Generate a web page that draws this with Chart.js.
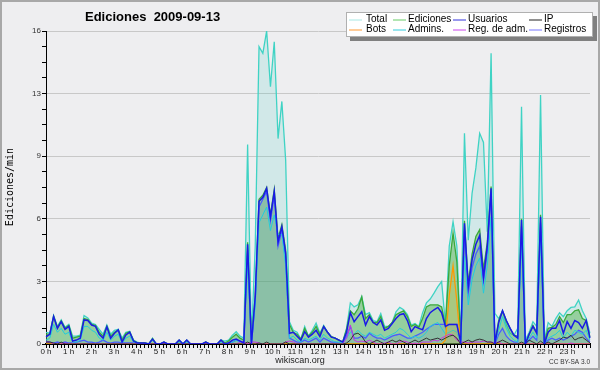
<!DOCTYPE html>
<html>
<head>
<meta charset="utf-8">
<script src="https://cdn.jsdelivr.net/npm/chart.js@4.4.1/dist/chart.umd.min.js"></script>
<style>
  html, body { margin: 0; padding: 0; background: #eeeef0; }
  #wrap { width: 600px; height: 370px; }
</style>
</head>
<body>
<div id="wrap"><canvas id="chart" width="600" height="370"></canvas></div>
<script>
/* Ediciones por minuto, 2009-09-13 (10 min steps) */
const TITLE = "Ediciones  2009-09-13";
const Y_TITLE = "Ediciones/min";
const hourLabels = ["0 h", "1 h", "2 h", "3 h", "4 h", "5 h", "6 h", "7 h", "8 h", "9 h", "10 h", "11 h",
  "12 h", "13 h", "14 h", "15 h", "16 h", "17 h", "18 h", "19 h", "20 h", "21 h", "22 h", "23 h"];
const yTickLabels = ["0", "3", "6", "9", "13", "16"];

const total = [
  0.6, 0.55, 1.46, 0.9, 1.23, 0.85, 1.0, 0.4, 0.4, 0.45, 1.45, 1.33,
  1.07, 1.0, 0.75, 0.5, 0.97, 0.5, 0.7, 0.75, 0.3, 0.6, 0.65, 0.2,
  0.1, 0.05, 0.05, 0, 0.3, 0, 0, 0.1, 0, 0, 0, 0.2,
  0, 0.2, 0, 0, 0, 0, 0.1, 0, 0, 0, 0.2, 0.15,
  0.2, 0.45, 0.63, 0.4, 0.3, 10.2, 0.2, 5.0, 15.2, 14.86, 16.0, 13.15,
  15.45, 10.5, 12.4, 9.4, 1.14, 0.7, 0.6, 0.25, 0.9, 0.4, 0.7, 1.07,
  0.55, 0.95, 0.6, 0.38, 0.3, 0.2, 0.1, 0.8, 2.1, 1.9, 2.0, 2.42,
  1.5, 1.6, 1.2, 1.14, 1.55, 0.9, 0.9, 1.1, 1.65, 1.87, 1.75, 1.5,
  0.97, 1.05, 0.9, 1.6, 2.1, 2.3, 2.6, 2.93, 3.19, 1.0, 5.0, 6.25,
  5.0, 0.2, 10.77, 5.3, 7.7, 9.0, 10.77, 10.3, 5.74, 14.86, 1.57, 1.3,
  1.7, 1.0, 0.55, 0.45, 0.8, 12.13, 0.2, 0.6, 1.14, 0.9, 12.73, 0.2,
  1.1, 0.9, 1.3, 1.6, 1.4, 1.7, 1.87, 1.9, 2.25, 1.7, 1.3, 0.55
];
const ediciones = [
  0.5, 0.5, 1.42, 0.85, 1.18, 0.8, 0.95, 0.3, 0.35, 0.4, 1.3, 1.25,
  1.0, 0.95, 0.6, 0.4, 0.9, 0.4, 0.6, 0.72, 0.2, 0.55, 0.62, 0.18,
  0.05, 0.05, 0.05, 0, 0.28, 0, 0, 0.1, 0, 0, 0, 0.2,
  0, 0.2, 0, 0, 0, 0, 0.1, 0, 0, 0, 0.2, 0.05,
  0.15, 0.35, 0.5, 0.3, 0.2, 5.2, 0.1, 2.5, 7.4, 7.6, 8.0, 6.6,
  7.9, 5.4, 6.1, 4.8, 1.0, 0.6, 0.5, 0.25, 0.8, 0.4, 0.6, 0.9,
  0.5, 0.9, 0.6, 0.38, 0.3, 0.2, 0.1, 0.75, 1.7, 1.5, 1.8, 2.4,
  1.3, 1.5, 1.1, 1.1, 1.4, 0.8, 0.9, 1.1, 1.5, 1.6, 1.7, 1.4,
  0.9, 1.0, 0.85, 1.3, 1.9, 2.0, 2.0, 2.0, 1.9, 0.95, 4.0, 5.66,
  4.2, 0.1, 6.3, 3.1, 4.6, 5.5, 5.85, 3.8, 5.2, 8.05, 0.1, 1.2,
  1.7, 1.2, 0.8, 0.45, 0.4, 6.4, 0, 0.5, 0.95, 0.6, 6.6, 0.1,
  0.8, 0.85, 1.0, 1.4, 1.1, 1.5, 1.5, 1.7, 1.75, 1.3, 1.2, 0.35
];
const usuarios = [
  0.37, 0.5, 1.4, 0.8, 1.14, 0.75, 0.9, 0.15, 0.2, 0.3, 1.23, 1.2,
  0.97, 0.9, 0.5, 0.3, 0.88, 0.3, 0.55, 0.72, 0.1, 0.46, 0.6, 0.15,
  0.05, 0.05, 0.05, 0, 0.25, 0, 0, 0.1, 0, 0, 0, 0.2,
  0, 0.2, 0, 0, 0, 0, 0.1, 0, 0, 0, 0.2, 0,
  0.05, 0.2, 0.25, 0.15, 0.05, 5.1, 0, 2.4, 7.3, 7.5, 7.96, 6.5,
  7.8, 5.2, 6.0, 4.65, 0.55, 0.6, 0.4, 0.2, 0.63, 0.35, 0.5, 0.7,
  0.38, 0.89, 0.6, 0.35, 0.3, 0.2, 0.1, 0.6, 1.6, 1.14, 1.4, 1.65,
  0.97, 1.4, 1.1, 0.97, 1.23, 0.7, 0.8, 1.05, 1.3, 1.5, 1.55, 1.2,
  0.63, 0.89, 0.8, 0.73, 1.3, 1.6, 1.75, 1.87, 1.6, 0.9, 1.0, 1.0,
  1.0, 0.1, 6.17, 2.93, 4.3, 5.1, 5.55, 3.4, 5.0, 7.96, 0, 1.1,
  1.7, 1.2, 0.8, 0.45, 0.3, 6.34, 0, 0.5, 0.9, 0.55, 6.5, 0,
  0.6, 0.8, 0.8, 1.2, 0.55, 1.14, 0.8, 1.2, 1.1, 0.8, 1.2, 0.3
];
const ip = [
  0.1, 0.1, 0.05, 0, 0.1, 0, 0, 0, 0, 0, 0, 0,
  0, 0, 0, 0, 0, 0, 0, 0, 0, 0, 0, 0,
  0, 0, 0, 0, 0, 0, 0, 0, 0, 0, 0, 0,
  0, 0, 0, 0, 0, 0, 0, 0, 0, 0, 0, 0,
  0, 0, 0, 0, 0, 0.1, 0, 0, 0.05, 0, 0.1, 0,
  0, 0, 0, 0.1, 0, 0, 0, 0, 0, 0, 0, 0,
  0, 0, 0, 0, 0, 0, 0, 0.05, 0.2, 0.5, 0.55, 0.4,
  0.1, 0, 0.1, 0.2, 0.1, 0, 0.1, 0.2, 0.1, 0.2, 0.1, 0,
  0.1, 0.2, 0.1, 0.2, 0.3, 0.2, 0.25, 0.3, 0.2, 0.3, 0.4, 0.45,
  0.3, 0, 0.1, 0.2, 0.1, 0.2, 0.25, 0.2, 0.1, 0.1, 0, 0.1,
  0.2, 0.1, 0, 0, 0, 0.1, 0, 0.2, 0.1, 0, 0.15, 0,
  0.1, 0, 0.1, 0.2, 0.35, 0.3, 0.45, 0.2, 0.3, 0.35, 0.2, 0.05
];
const bots = [
  0, 0, 0, 0, 0, 0, 0, 0, 0, 0, 0, 0,
  0, 0, 0, 0, 0, 0, 0, 0, 0, 0, 0, 0,
  0, 0, 0, 0, 0, 0, 0, 0, 0, 0, 0, 0,
  0, 0, 0, 0, 0, 0, 0, 0, 0, 0, 0, 0,
  0, 0, 0, 0, 0, 0, 0, 0, 0, 0, 0, 0,
  0, 0, 0, 0, 0, 0, 0, 0, 0, 0, 0, 0,
  0, 0, 0, 0, 0, 0, 0, 0, 0, 0, 0, 0,
  0, 0, 0, 0, 0, 0, 0, 0, 0, 0, 0, 0,
  0, 0, 0, 0, 0, 0, 0, 0, 0, 0.2, 2.5, 4.0,
  2.2, 0, 0, 0, 0, 0, 0, 0, 0, 0, 0, 0,
  0, 0, 0, 0, 0, 0, 0, 0, 0, 0, 0, 0,
  0, 0, 0, 0, 0, 0, 0, 0, 0, 0, 0, 0
];
const admins = [
  0.2, 0.3, 1.0, 0.6, 0.8, 0.5, 0.6, 0.1, 0.1, 0.2, 0.9, 0.9,
  0.7, 0.6, 0.3, 0.2, 0.6, 0.2, 0.4, 0.5, 0.05, 0.3, 0.4, 0.1,
  0, 0, 0, 0, 0.2, 0, 0, 0, 0, 0, 0, 0.1,
  0, 0.1, 0, 0, 0, 0, 0, 0, 0, 0, 0.1, 0,
  0, 0.1, 0.2, 0.1, 0, 4.2, 0, 2.0, 6.2, 6.6, 7.0, 5.8,
  6.6, 5.6, 5.6, 4.0, 0.3, 0.4, 0.2, 0.1, 0.3, 0.2, 0.3, 0.4,
  0.2, 0.5, 0.3, 0.2, 0.1, 0.1, 0.05, 0.3, 0.6, 0.5, 0.7, 0.5,
  0.4, 0.6, 0.5, 0.4, 0.5, 0.3, 0.4, 0.5, 0.6, 0.8, 0.7, 0.5,
  0.3, 0.4, 0.3, 0.4, 0.6, 0.9, 1.0, 1.1, 0.8, 0.5, 0.6, 0.7,
  0.6, 0, 4.5, 2.0, 3.3, 4.0, 4.4, 2.6, 4.0, 6.5, 0, 0.7,
  1.4, 0.8, 0.4, 0.2, 0.1, 5.2, 0, 0.3, 0.6, 0.3, 5.5, 0,
  0.3, 0.4, 0.5, 0.7, 0.3, 0.6, 0.4, 0.7, 0.6, 0.5, 0.7, 0.2
];
const regAdm = [
  0.1, 0.1, 0, 0, 0, 0.05, 0, 0, 0, 0, 0, 0,
  0, 0, 0, 0, 0, 0, 0, 0, 0, 0, 0, 0,
  0, 0, 0, 0, 0, 0, 0, 0, 0, 0, 0, 0,
  0, 0, 0, 0, 0, 0, 0, 0, 0, 0, 0, 0,
  0, 0, 0, 0.1, 0.1, 0, 0.1, 0.1, 0.05, 0, 0, 0,
  0, 0, 0, 0.1, 0.15, 0.1, 0, 0, 0, 0, 0, 0,
  0, 0, 0, 0, 0, 0, 0, 0.3, 0.97, 0.2, 0.1, 0.15,
  0.1, 0.2, 0.1, 0, 0, 0.05, 0.1, 0, 0, 0.1, 0.15, 0.1,
  0, 0.05, 0, 0.1, 0.1, 0.1, 0.2, 0.15, 0.3, 0.4, 0.5, 0.45,
  0.2, 0.1, 0.1, 0.05, 0.1, 0.1, 0.1, 0.15, 0.1, 0.1, 0.05, 0.1,
  0, 0, 0, 0, 0, 0, 0, 0, 0, 0, 0, 0,
  0, 0, 0, 0, 0, 0, 0.05, 0, 0, 0, 0, 0
];
const registros = [
  0.15, 0.1, 0.05, 0.1, 0.05, 0.1, 0.05, 0.05, 0.1, 0.15, 0.2, 0.1,
  0.1, 0.05, 0.1, 0.2, 0.1, 0.05, 0.1, 0.1, 0.05, 0.05, 0.05, 0.05,
  0, 0, 0, 0, 0, 0, 0, 0, 0, 0, 0, 0,
  0, 0, 0, 0, 0, 0, 0, 0, 0, 0, 0, 0,
  0.05, 0.1, 0.2, 0.15, 0.1, 4.8, 0, 2.2, 7.0, 7.4, 7.8, 6.3,
  7.6, 5.0, 5.8, 4.4, 0.3, 0.2, 0.1, 0.1, 0.2, 0.1, 0.2, 0.3,
  0.1, 0.3, 0.2, 0.1, 0.1, 0.05, 0.05, 0.4, 0.9, 0.3, 0.3, 0.4,
  0.3, 0.55, 0.4, 0.3, 0.3, 0.2, 0.3, 0.4, 0.46, 0.5, 0.4, 0.3,
  0.3, 0.4, 0.5, 0.6, 0.75, 0.88, 1.0, 1.0, 1.0, 1.0, 1.0, 1.0,
  1.0, 0, 5.8, 2.6, 3.9, 4.6, 5.0, 3.2, 4.7, 7.7, 0, 0.5,
  0.8, 0.4, 0.2, 0.1, 0.1, 6.0, 0, 0.2, 0.4, 0.2, 6.2, 0,
  0.2, 0.3, 0.2, 0.3, 0.2, 0.3, 0.4, 0.5, 0.7, 0.6, 0.3, 0.1
];

(() => {
  "use strict";
  const BG = "#eeeef0";
  const SANS = '"Liberation Sans", Arial, sans-serif';

  // one category per 10 minutes
  const slots = [];
  for (let h = 0; h < 24; h++)
    for (let m = 0; m < 60; m += 10)
      slots.push(String(h).padStart(2, "0") + ":" + String(m).padStart(2, "0"));

  const line = (label, data, color, order, extra = {}) => Object.assign({
    label, data, order, borderColor: color, borderWidth: 1.3,
    pointRadius: 0, tension: 0, fill: false, xAxisID: "x", yAxisID: "y",
  }, extra);

  const datasets = [
    line("Total", total, "#3fd3c4", 8, { fill: "origin", backgroundColor: "rgba(64,208,192,0.16)" }),
    line("Ediciones", ediciones, "#3aa83a", 7, { fill: "origin", backgroundColor: "rgba(70,175,60,0.43)" }),
    line("Usuarios", usuarios, "#1a1ae6", 1, { borderWidth: 1.5 }),
    line("IP", ip, "#333333", 2, { borderWidth: 1 }),
    line("Bots", bots, "#ff9900", 4, { fill: "origin", backgroundColor: "rgba(255,170,0,0.18)" }),
    line("Admins.", admins, "#22ccdd", 5, { borderWidth: 1 }),
    line("Reg. de adm.", regAdm, "#cc33dd", 3, { borderWidth: 1 }),
    line("Registros", registros, "#4a5cff", 6, { fill: "origin", backgroundColor: "rgba(70,90,240,0.12)" }),
  ];
  const legendColors = ["#a8e8e4", "#66cc66", "#3333dd", "#222222", "#ff9933", "#33ccdd", "#cc44ee", "#7777ff"];

  // title, legend box, axis title, footer and frame
  const decor = {
    id: "decor",
    beforeDraw(chart) {
      const c = chart.ctx;
      c.save();
      c.fillStyle = BG;
      c.fillRect(0, 0, chart.width, chart.height);
      c.restore();
    },
    afterDraw(chart) {
      const c = chart.ctx;
      c.save();
      c.fillStyle = "#000";
      c.font = "bold 13px " + SANS;
      c.textBaseline = "alphabetic";
      c.fillText(TITLE, 85, 21);

      c.save();
      c.translate(10, 187);
      c.rotate(-Math.PI / 2);
      c.font = '10px "DejaVu Sans Mono", monospace';
      c.textAlign = "center";
      c.textBaseline = "middle";
      c.fillText(Y_TITLE, 0, 0);
      c.restore();

      // legend
      c.fillStyle = "#808080";
      c.fillRect(350, 16, 247, 25);
      c.fillStyle = "#fff";
      c.fillRect(346, 12, 247, 25);
      c.strokeStyle = "#b0b0b0";
      c.lineWidth = 1;
      c.strokeRect(346.5, 12.5, 246, 24);
      const swX = [349, 393, 453, 529], txX = [366, 408, 468, 544], rowY = [19.5, 29.5];
      c.font = "10px " + SANS;
      c.textBaseline = "middle";
      chart.data.datasets.forEach((d, i) => {
        const col = i % 4, row = Math.floor(i / 4), y = rowY[row];
        c.strokeStyle = legendColors[i];
        c.beginPath();
        c.moveTo(swX[col], y + 0.5);
        c.lineTo(swX[col] + 13, y + 0.5);
        c.stroke();
        c.fillStyle = "#000";
        c.fillText(d.label, txX[col], y);
      });

      // footer
      c.fillStyle = "#222";
      c.textAlign = "center";
      c.font = "9px " + SANS;
      c.fillText("wikiscan.org", 300, 361);
      c.textAlign = "right";
      c.font = "6.5px " + SANS;
      c.fillStyle = "#333";
      c.fillText("CC BY-SA 3.0", 590, 362);

      c.strokeStyle = "#a8a8a8";
      c.lineWidth = 2;
      c.strokeRect(1, 1, chart.width - 2, chart.height - 2);
      c.restore();
    },
  };

  new Chart(document.getElementById("chart"), {
    type: "line",
    data: { labels: slots, datasets },
    options: {
      responsive: false,
      animation: false,
      devicePixelRatio: 1,
      layout: { padding: { top: 31, right: 10, left: 0, bottom: 0 } },
      plugins: { legend: { display: false }, title: { display: false }, tooltip: { enabled: false } },
      scales: {
        x: { type: "category", display: false, offset: false },
        xt: {
          type: "linear", position: "bottom", min: 0, max: 1440,
          afterFit: (s) => { s.height = 26; },
          border: { color: "#000", width: 2 },
          grid: { drawOnChartArea: false, tickLength: 4, color: "#000" },
          ticks: {
            stepSize: 10, autoSkip: false, maxRotation: 0, minRotation: 0, padding: -1,
            color: "#222", font: { family: SANS, size: 8 },
            callback: (v) => (v % 60 === 0 && v < 1440 ? hourLabels[v / 60] : ""),
          },
        },
        y: {
          min: 0, max: 16,
          afterFit: (s) => { s.width = 46; },
          border: { color: "#000", width: 1 },
          grid: {
            color: (ctx) => (ctx.index % 4 === 0 && ctx.index > 0 ? "#c8c8c8" : "rgba(0,0,0,0)"),
            tickColor: "#000", tickLength: 4,
          },
          ticks: {
            stepSize: 0.8, autoSkip: false, padding: 1, color: "#333",
            font: { family: SANS, size: 8 },
            callback: (v, i) => (i % 4 === 0 ? yTickLabels[i / 4] : ""),
          },
        },
      },
    },
    plugins: [decor],
  });
})();
</script>
</body>
</html>
